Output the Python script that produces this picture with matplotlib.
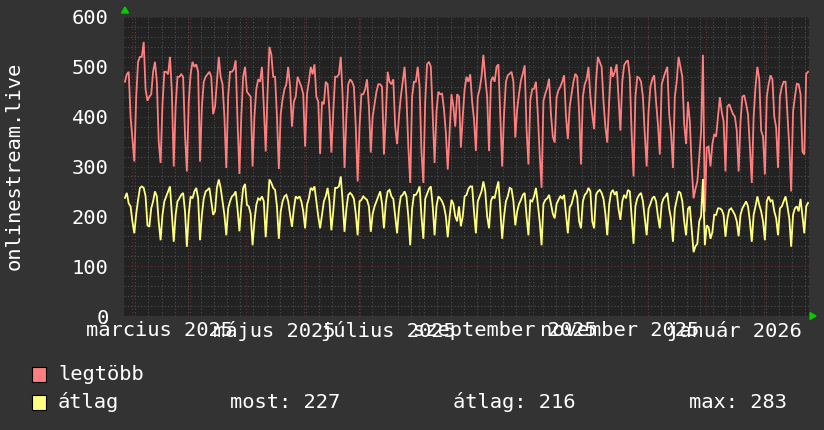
import numpy as np
import pandas as pd
import matplotlib
matplotlib.use("Agg")
import matplotlib.pyplot as plt
import matplotlib.dates as mdates
from matplotlib.patches import Rectangle, Polygon

# ---------------- data ----------------
start_date = "2025-02-25"
legtobb = [
    470,485,490,400,355,310,440,510,520,520,550,455,432,440,445,490,510,470,350,307,425,
    490,490,485,520,450,300,420,480,480,485,480,365,290,430,485,510,500,505,490,310,420,
    470,480,485,490,480,405,420,470,520,480,465,400,297,440,490,490,495,513,390,285,
    400,480,500,450,445,440,300,400,455,475,470,500,420,330,450,540,525,480,480,400,295,
    405,435,455,465,500,460,380,430,440,480,470,460,445,340,445,470,500,485,505,440,430,
    325,430,425,470,465,410,328,410,480,480,485,520,440,297,400,465,475,
    470,460,380,270,380,445,445,455,475,420,328,400,425,450,465,465,460,324,400,490,470,
    465,475,380,345,400,440,470,500,440,340,267,440,470,470,500,460,330,267,430,505,510,
    500,405,307,410,450,445,446,415,368,294,370,445,420,380,445,440,338,400,455,480,470,485,
    430,395,331,440,455,480,524,478,440,331,470,480,470,500,505,400,300,405,470,483,486,
    490,470,358,415,446,473,486,503,375,304,433,455,456,470,405,324,257,432,446,458,476,
    405,360,348,439,453,460,470,483,402,355,420,446,470,486,480,410,304,440,465,
    475,500,440,405,375,470,520,510,500,430,380,348,430,500,480,490,505,440,372,470,503,
    510,513,480,365,280,440,480,478,470,440,365,300,410,460,475,483,430,385,324,465,478,
    490,500,405,368,297,440,470,520,500,480,385,345,430,390,300,236,255,
    270,318,370,524,209,338,340,300,345,365,360,400,439,410,390,290,420,425,415,405,400,
    372,290,390,440,443,425,405,340,267,400,460,500,475,372,360,284,440,465,483,475,400,
    378,297,440,460,470,470,405,340,250,410,440,466,465,445,330,324,486,490,
]
atlag = [
    237,247,226,220,189,166,205,233,257,260,257,240,182,179,216,230,250,240,189,152,203,
    230,240,250,260,205,149,203,230,236,243,247,210,139,205,240,236,250,257,236,152,203,
    236,250,253,257,230,203,210,257,274,257,230,203,162,216,230,240,243,250,215,170,
    220,257,265,223,220,205,142,190,223,236,233,240,230,158,218,274,267,257,253,220,155,
    210,230,240,243,230,203,179,215,240,236,240,230,210,176,223,236,257,253,260,230,200,
    176,203,230,240,257,230,172,210,257,257,260,280,230,169,215,243,247,
    243,235,205,162,230,233,240,236,233,220,169,205,220,230,240,250,225,176,227,250,253,
    240,235,200,166,215,240,243,250,240,200,142,215,243,243,250,260,200,155,235,245,255,
    260,220,162,220,240,236,230,220,200,158,200,233,225,200,190,220,180,200,240,243,255,260,
    260,210,166,230,240,250,270,250,200,176,230,240,236,255,270,215,155,200,230,240,257,
    255,230,182,210,225,233,243,247,200,162,233,230,240,257,225,190,142,225,233,236,243,
    225,205,196,225,233,240,236,243,205,166,218,225,240,253,238,190,176,230,243,
    247,257,250,190,176,243,250,253,247,235,205,162,223,247,253,243,250,215,193,230,243,
    236,253,250,200,145,220,236,243,247,230,195,162,215,225,236,240,230,200,176,225,236,
    240,247,215,195,149,215,233,250,247,230,190,162,215,220,175,128,140,
    145,190,200,275,142,182,178,155,168,203,203,216,216,213,203,159,195,213,216,210,203,
    190,160,203,216,223,230,220,190,149,203,220,240,223,210,190,152,230,240,230,233,210,
    196,162,216,220,230,240,220,196,139,203,216,220,210,235,200,166,220,227,
]
y_ticks = [0, 100, 200, 300, 400, 500, 600]
month_labels = ["március 2025", "május 2025", "július 2025",
                "szeptember 2025", "november 2025", "január 2026"]
label_months = ["2025-03-01", "2025-05-01", "2025-07-01",
                "2025-09-01", "2025-11-01", "2026-01-01"]
legend_names = ["legtöbb", "átlag"]
stat_texts = ["most: 227", "átlag: 216", "max: 283"]

# ---------------- style ----------------
W, H = 824, 430
FIG_BG = "#333333"
AX_BG = "#222222"
RED = "#ff7f7f"
YEL = "#ffff7f"
TXT = "#ffffff"
MINOR = "#505050"
MAJOR = "#6a3030"
FONT = "DejaVu Sans Mono"
FS = 14.7

def fx(x): return x / W
def fy(y): return 1 - y / H

fig = plt.figure(figsize=(W / 100, H / 100), dpi=100, facecolor=FIG_BG)
L, R, T, B = 124, 809, 17, 316
ax = fig.add_axes([fx(L), fy(B), (R - L) / W, (B - T) / H])
ax.set_facecolor(AX_BG)

dates = pd.date_range(start_date, periods=len(legtobb), freq="D")
xd = mdates.date2num(dates) + 0.5
x0 = xd[0] - 0.5
x1 = x0 + 365
end_date = dates[0] + pd.Timedelta(days=365)

ax.set_xlim(x0, x1)
ax.set_ylim(0, 600)

# grid: horizontal
for v in np.arange(0, 601, 20):
    if v % 100 == 0:
        continue
    ax.axhline(v, color=MINOR, lw=0.8, ls=(0, (1, 2)), zorder=1)
for v in y_ticks:
    ax.axhline(v, color=MAJOR, lw=0.8, ls=(0, (1, 2)), zorder=1.1)
# grid: vertical (weeks and months)
weeks = mdates.date2num(pd.date_range(dates[0], end_date, freq="W-MON"))
months = mdates.date2num(pd.date_range(dates[0], end_date, freq="MS"))
for w in weeks:
    if x0 < w < x1:
        ax.axvline(w, color=MINOR, lw=0.8, ls=(0, (1, 2)), zorder=1)
for m in months:
    if x0 < m < x1:
        ax.axvline(m, color=MAJOR, lw=0.8, ls=(0, (1, 2)), zorder=1.1)

ax.plot(xd, legtobb, color=RED, lw=1.3, zorder=3, solid_joinstyle="miter")
ax.plot(xd, atlag, color=YEL, lw=1.3, zorder=4, solid_joinstyle="miter")

for s in ax.spines.values():
    s.set_visible(False)

ax.set_yticks(y_ticks)
ax.set_yticklabels([str(v) for v in y_ticks], fontfamily=FONT, fontsize=FS, color=TXT)
ax.tick_params(axis="y", length=0, pad=11)

lab_pos = [mdates.date2num(pd.Timestamp(d)) + 15 for d in label_months]
ax.set_xticks(lab_pos)
ax.set_xticklabels(month_labels, fontfamily=FONT, fontsize=FS, color=TXT)
ax.tick_params(axis="x", length=0, pad=3.9)

fig.text(fx(14), fy(166), "onlinestream.live", rotation=90, ha="center", va="center",
         fontfamily=FONT, fontsize=FS, color=TXT)

# arrows
fig.add_artist(Polygon([[fx(121.5), fy(13)], [fx(128.5), fy(13)], [fx(125), fy(7)]],
                       closed=True, color="#00cc00", transform=fig.transFigure))
fig.add_artist(Polygon([[fx(810), fy(312.5)], [fx(810), fy(319.5)], [fx(816), fy(316)]],
                       closed=True, color="#00cc00", transform=fig.transFigure))

# legend
colors = [RED, YEL]
rows = [374, 402]
for name, c, yy in zip(legend_names, colors, rows):
    fig.add_artist(Rectangle((fx(32), fy(yy + 7.5)), 14 / W, 15 / H, facecolor=c,
                             edgecolor="black", lw=0.8, transform=fig.transFigure))
    fig.text(fx(58), fy(yy), name, ha="left", va="center", fontfamily=FONT,
             fontsize=FS, color=TXT)
for t, xx in zip(stat_texts, [230, 453, 689]):
    fig.text(fx(xx), fy(rows[1]), t, ha="left", va="center", fontfamily=FONT,
             fontsize=FS, color=TXT)

fig.savefig("out.png", dpi=100, facecolor=FIG_BG)
